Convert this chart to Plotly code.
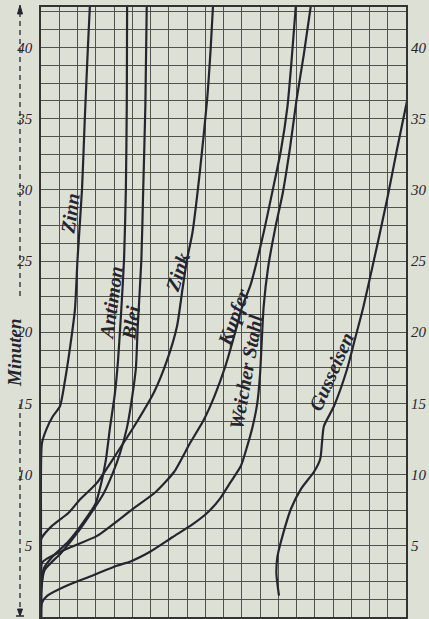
import plotly.graph_objects as go

# ---- data: x = grid columns, y = Minuten ----
zinn_x = [0, 0, 0.05, 0.3, 0.65, 1.04, 1.3, 1.6, 1.86, 2.0, 2.25, 2.4, 2.57, 2.7]
zinn_y = [0, 6, 12.2, 13.2, 14.1, 14.8, 16.5, 19.0, 21.6, 25.1, 30.1, 35.0, 40.0, 43.5]

antimon_x = [0, 0.02, 0.15, 0.6, 1.5, 2.4, 3.0, 3.3, 3.55, 3.78, 4.05, 4.22, 4.4, 4.55, 4.65, 4.7, 4.72]
antimon_y = [0, 2.0, 3.4, 4.2, 5.3, 6.8, 8.0, 9.4, 11.0, 13.3, 15.7, 18.0, 21.6, 25.1, 30.0, 36.0, 43.5]

blei_x = [0, 0.02, 0.2, 1.1, 2.1, 2.85, 3.4, 3.9, 4.33, 4.71, 5.0, 5.2, 5.3, 5.5, 5.6, 5.72, 5.8]
blei_y = [0, 2.0, 3.3, 4.5, 6.1, 7.5, 8.6, 10.0, 11.5, 13.3, 15.5, 17.5, 20.4, 25.1, 30.0, 36.0, 43.5]

zink_x = [0, 0, 0.02, 0.6, 1.5, 2.1, 3.05, 4.15, 5.3, 6.2, 6.9, 7.45, 7.75, 8.0, 8.3, 8.7, 9.1, 9.3, 9.45]
zink_y = [0, 3.0, 5.5, 6.4, 7.3, 8.2, 9.4, 11.5, 13.8, 15.8, 18.0, 20.4, 23.0, 25.1, 27.0, 31.2, 36.3, 40.0, 43.5]

kupfer_x = [0, 0, 0.05, 0.33, 1.42, 3.07, 5.04, 6.3, 7.3, 8.16, 8.9, 9.5, 10.1, 10.6, 11.0, 11.5, 12.2, 12.7, 13.15, 13.5, 13.7, 14.0]
kupfer_y = [0, 2.5, 3.8, 4.1, 4.8, 5.7, 7.6, 8.8, 10.2, 12.2, 13.8, 15.5, 17.6, 19.8, 21.7, 23.4, 27.0, 30.0, 32.8, 35.8, 38.6, 43.5]

stahl_x = [0, 0.05, 0.35, 1.4, 2.8, 4.15, 4.9, 6.0, 7.2, 8.3, 9.1, 9.8, 10.35, 10.95, 11.3, 11.6, 11.85, 12.0, 12.1, 12.2, 12.45, 12.85, 13.25, 13.65, 14.0, 14.4, 14.85]
stahl_y = [0, 1.0, 1.5, 2.2, 2.9, 3.6, 3.9, 4.6, 5.6, 6.5, 7.3, 8.3, 9.4, 10.6, 12.0, 13.4, 15.0, 17.0, 19.5, 21.8, 24.6, 27.4, 29.8, 33.0, 36.3, 39.5, 43.5]

guss_x = [13.04, 12.9, 12.95, 13.15, 13.7, 14.25, 14.96, 15.3, 15.4, 15.5, 16.05, 16.77, 17.2, 17.65, 18.25, 18.96, 19.5, 20.05]
guss_y = [1.5, 3.0, 4.2, 5.3, 7.6, 9.0, 10.2, 11.1, 12.3, 13.4, 14.8, 17.4, 19.5, 21.7, 25.1, 29.3, 32.8, 36.2]

tick_vals = [5, 10, 15, 20, 25, 30, 35, 40]
tick_text = ["5", "10", "15", "20", "25", "30", "35", "40"]

labels = ["Zinn", "Antimon", "Blei", "Zink", "Kupfer", "Weicher Stahl", "Gusseisen"]
label_x = [1.59, 3.84, 4.93, 7.5, 10.58, 11.23, 15.9]
label_y = [28.3, 22.05, 20.7, 24.2, 21.0, 17.2, 17.2]
label_angle = [-82, -82, -82, -72, -70, -80, -66]

curves = [(zinn_x, zinn_y), (antimon_x, antimon_y), (blei_x, blei_y), (zink_x, zink_y),
          (kupfer_x, kupfer_y), (stahl_x, stahl_y), (guss_x, guss_y)]

# ---- styling ----
BG = "#dde1d5"
INK = "#26252f"
GRID = "#4f524d"
W, H = 429, 619
L, R, T, B = 41, 23, 7, 2
PW, PH = W - L - R, H - T - B

def px(xp):
    return (xp - L) / PW

def py(yp):
    return (H - B - yp) / PH

fig = go.Figure()
for (cx, cy), name in zip(curves, labels):
    fig.add_trace(go.Scatter(x=cx, y=cy, mode="lines", name=name,
                             line=dict(color=INK, width=2.2, shape="spline", smoothing=0.6),
                             hoverinfo="skip", showlegend=False))
# invisible trace to carry the right-hand axis
fig.add_trace(go.Scatter(x=guss_x, y=guss_y, yaxis="y2", mode="lines",
                         line=dict(width=0), opacity=0, hoverinfo="skip", showlegend=False))

tickfont = dict(family="Liberation Serif", size=15, style="italic", color=INK)
yr = [0, 42.84]

fig.update_layout(
    width=W, height=H,
    margin=dict(l=L, r=R, t=T, b=B),
    paper_bgcolor=BG, plot_bgcolor=BG,
    xaxis=dict(range=[0, 20], dtick=1, tick0=0, showgrid=True, gridcolor=GRID, gridwidth=1,
               showticklabels=False, ticks="", zeroline=False,
               showline=True, mirror=True, linecolor="#333333", linewidth=1.5),
    yaxis=dict(range=yr, tickvals=tick_vals, ticktext=tick_text, showgrid=True,
               gridcolor=GRID, gridwidth=1, ticks="", zeroline=False,
               minor=dict(dtick=1.25, tick0=0, showgrid=True, gridcolor=GRID, gridwidth=1),
               tickfont=tickfont, ticklabelstandoff=4,
               showline=True, mirror=True, linecolor="#333333", linewidth=1.5),
    yaxis2=dict(range=yr, overlaying="y", side="right", tickvals=tick_vals, ticktext=tick_text,
                showgrid=False, zeroline=False, ticks="", tickfont=tickfont,
                ticklabelstandoff=4, showline=False),
)

lab_font = dict(family="Liberation Serif", size=20, style="italic", weight="bold", color=INK)
for t, x, y, a in zip(labels, label_x, label_y, label_angle):
    fig.add_annotation(x=x, y=y, xref="x", yref="y", text=t, textangle=a,
                       xanchor="center", yanchor="middle",
                       showarrow=False, font=lab_font)

fig.add_annotation(x=px(14), y=py(353), xref="paper", yref="paper", text="Minuten",
                   textangle=-90, showarrow=False, xanchor="center", yanchor="middle",
                   font=dict(family="Liberation Serif", size=19,
                             style="italic", weight="bold", color=INK))

dash = dict(color=INK, width=1.3, dash="5px,4px")
fig.add_shape(type="line", xref="paper", yref="paper", x0=px(20), x1=px(20), y0=py(12), y1=py(300), line=dash)
fig.add_shape(type="line", xref="paper", yref="paper", x0=px(20), x1=px(20), y0=py(404), y1=py(614), line=dash)
fig.add_shape(type="path", xref="paper", yref="paper",
              path=f"M {px(17.5)},{py(14)} L {px(22.5)},{py(14)} L {px(20)},{py(5)} Z",
              fillcolor=INK, line=dict(color=INK, width=1))
fig.add_shape(type="line", xref="paper", yref="paper", x0=px(16), x1=px(24), y0=py(616), y1=py(616),
              line=dict(color=INK, width=1.5))
fig.add_shape(type="path", xref="paper", yref="paper",
              path=f"M {px(17.5)},{py(609)} L {px(22.5)},{py(609)} L {px(20)},{py(616)} Z",
              fillcolor=INK, line=dict(color=INK, width=1))

fig.write_html("out.html", config={"displayModeBar": False},
               post_script="document.body.style.margin='0';document.body.style.background='%s';" % BG)
